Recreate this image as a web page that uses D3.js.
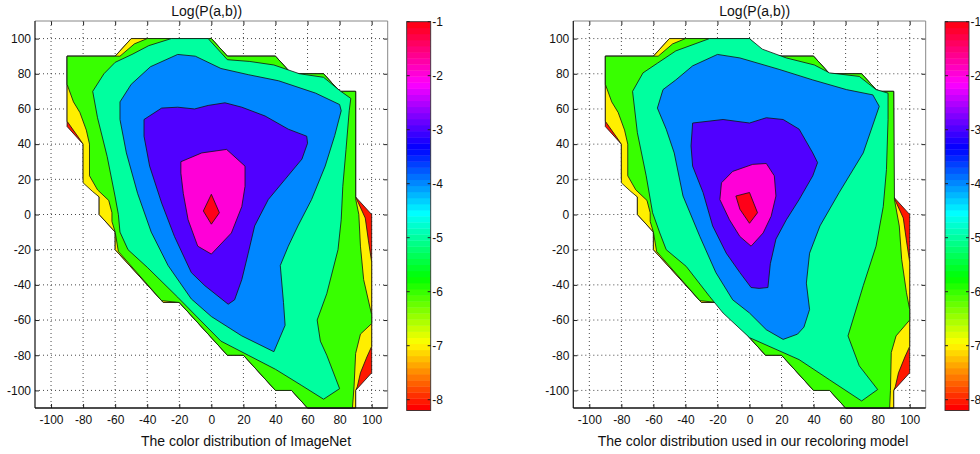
<!DOCTYPE html>
<html>
<head>
<meta charset="utf-8">
<script src="https://cdn.jsdelivr.net/npm/d3@7"></script>
<style>
  body { margin: 0; background: #fff; }
  svg text { font-family: "Liberation Sans", Arial, Helvetica, sans-serif; fill: #111; }
</style>
</head>
<body>
<svg id="chart" width="980" height="454"></svg>
<script>
// colour limits of the colorbar and the filled contour levels
const climLow = -8.2;
const climHigh = -1;
const contourLevels = [-8, -7, -6, -5, -4, -3, -2, -1];
const axisTicks = [-100, -80, -60, -40, -20, 0, 20, 40, 60, 80, 100];
const colorbarTicks = [-1, -2, -3, -4, -5, -6, -7, -8];
const titleText = "Log(P(a,b))";
const xLabels = ["The color distribution of ImageNet", "The color distribution used in our recoloring model"];

// region where P(a,b) is defined (level -8), same in both panels
const supportOutline = [[-90,90],[-60,90],[-50,100],[0,100],[10,90],[40,90],[50,80],[70,80],[80,70],[90,70],
  [90,10],[100,0],[100,-90],[90,-100],[90,-110],[60,-110],[50,-100],[40,-100],[20,-80],[10,-80],
  [-20,-50],[-30,-50],[-60,-20],[-60,-10],[-70,0],[-70,10],[-80,20],[-80,40],[-90,50]];
// level -7 (yellow), same in both panels
const yellowOutline = [[-90,90],[-60,90],[-50,100],[0,100],[10,90],[40,90],[50,80],[70,80],[80,70],[90,70],
  [90,10],[92,6],[96,-2],[98,-15],[100,-27],[100,-75],[97,-81],[93,-90],[91,-98],[90,-100],[90,-110],
  [60,-110],[50,-100],[40,-100],[20,-80],[10,-80],[-20,-50],[-30,-50],[-60,-20],[-60,-10],[-70,0],
  [-70,10],[-74,13],[-80,18],[-80,40],[-83,44],[-90,53]];

// ImageNet panel, levels -6 .. -1
const inetGreen = [[-90,90],[-57,90],[-48,97],[-40,100],[0,100],[10,90],[40,90],[50,80],[70,80],[80,70],[90,70],
  [90,9],[92,0],[93,-18],[95,-37],[100,-57],[100,-62],[93,-68],[90,-79],[89,-98],[88,-110],[60,-110],
  [50,-100],[40,-100],[20,-80],[10,-80],[-20,-50],[-31,-49],[-58,-21],[-60,-10],[-62,-4],[-62,1],
  [-64,8],[-71,14],[-76,22],[-76,40],[-78,48],[-82,58],[-86,64],[-90,74]];
const inetCyan = [[-25,100],[-2,100],[10,88],[24,87],[39,85],[55,80],[70,78],[80,70.5],[87,66],[86,59],
  [84,37],[82,16],[81,-3],[79,-20],[72,-45],[66,-60],[68,-72],[72,-80],[80,-99],[70,-105],[56,-97],
  [40,-88],[23,-80],[6,-72],[-7,-60],[-21,-47],[-40,-30],[-52,-20],[-57,-10],[-58,0],[-60,10],[-65,33],
  [-71,55],[-74,70],[-67,80],[-60,86.5],[-49.5,91],[-39,96]];
const inetBlue = [[-57,64],[-50,74],[-38,84],[-21,91],[-10,90],[6,83],[23,79.5],[42,76],[65,69],[80,62.5],
  [81,59],[77,45],[71,27.5],[62.5,8.5],[54,-6.5],[48,-18],[43,-29],[45,-50],[46,-63],[39,-78],[19,-69],
  [0,-58],[-12.5,-48],[-27,-29],[-37.5,-10],[-46,12],[-53,35],[-57,54]];
const inetPurple = [[-42,54],[-31,60.5],[-21,61],[-10.5,60],[-2,62],[8.5,63.5],[19,61],[33.5,56],[48,48.5],
  [59.5,44.5],[60,40.5],[56.5,31.5],[46,20],[35.5,8.5],[27,-6.5],[23,-22],[19,-37],[14.5,-48.5],[10.5,-51],
  [-4,-40.5],[-12.5,-33],[-23,-12.5],[-31,6.5],[-38.5,27.5],[-42,44.5]];
const inetMagenta = [[-19,30],[-6,35],[9.5,37],[21,27.5],[21,16],[19,4.5],[12.5,-10.5],[0,-22.5],[-8.5,-18],
  [-14.5,-3],[-17.5,12],[-19,23.5]];
const inetRed = [[0,11.5],[5,1],[0,-5.5],[-5,2]];

// recoloring model panel, levels -6 .. -1
const recGreen = [[-90,90],[-57,90],[-48,97],[-40,100],[0,100],[10,90],[40,90],[50,80],[70,80],[80,70],[90,70],
  [90.5,8.5],[93.5,-6.5],[95,-25.5],[98,-44.5],[100,-54],[100,-60],[91.5,-69],[88.5,-78.5],[88,-100],
  [87.5,-110],[60,-110],[50,-100],[40,-100],[20,-80],[10,-80],[-20,-50],[-31,-49],[-58,-21],[-60,-10],
  [-62,-4],[-62,1],[-64,8],[-71,14],[-76,22],[-76,40],[-78,48],[-82,58],[-86,64],[-90,74]];
const recCyan = [[-25,100],[0,100],[8,94],[23,89],[40.5,85],[50,80.5],[68.5,78.5],[79,71],[86.5,69],[86.5,54],
  [85.5,25.5],[83.5,4.5],[79,-18],[71,-40.5],[61.5,-69],[68.5,-86],[80,-99.5],[70,-106],[50,-94],
  [31,-82.5],[0,-70],[-16.5,-56],[-25,-46.5],[-39.5,-29.5],[-52,-20],[-56,-10.5],[-60.5,1],[-64.5,22],
  [-70,46.5],[-73,70],[-66.5,80.5],[-57.5,86],[-46,93]];
const recBlue = [[-57.5,60.5],[-54,71],[-46,76.5],[-35.5,84.5],[-20,91],[-6,89],[18.5,82.5],[39.5,76.5],
  [60.5,71],[77,68],[81,61.5],[71,35],[56,12.5],[44,-6.5],[37.5,-22],[35.5,-39],[37.5,-54],[34,-64],
  [30,-68],[21,-71],[10.5,-65.5],[0,-56],[-10.5,-48.5],[-21,-33],[-31,-12.5],[-41.5,10.5],[-47,35],[-52,48.5]];
const recPurple = [[-35.5,52],[-16.5,54],[0,52],[10.5,55],[21,54],[31,48.5],[39.5,35],[42.5,29.5],[39.5,22],
  [31,8.5],[23,-3],[16.5,-14],[13,-28],[11.5,-41.5],[6,-42],[1,-41.5],[-6,-33],[-14.5,-22],[-23,-6.5],
  [-29,12.5],[-35.5,27.5],[-36.5,39]];
const recMagenta = [[-17.5,18],[-10.5,24.5],[2,28.5],[10.5,29],[15.5,22],[16.5,10.5],[13.5,-1],[8.5,-10.5],
  [1,-18],[-6,-12.5],[-12.5,-3],[-18.5,8.5]];
const recRed = [[-8.5,10.5],[0,12.5],[5,1],[0,-5],[-6,3]];

const panels = [
  { left: 35, right: 387.7, cbLeft: 406.7, titleX: 206.7, labelX: 246, label: xLabels[0],
    regions: [supportOutline, yellowOutline, inetGreen, inetCyan, inetBlue, inetPurple, inetMagenta, inetRed] },
  { left: 573.3, right: 925.7, cbLeft: 945, titleX: 754.7, labelX: 753, label: xLabels[1],
    regions: [supportOutline, yellowOutline, recGreen, recCyan, recBlue, recPurple, recMagenta, recRed] }
];

const svg = d3.select("#chart");
const plotTop = 21, plotBottom = 408;
const cbTop = 21.7, cbBottom = 410.5, cbWidth = 24;

// matlab-like hsv colormap with 64 entries
function hsvColor(i) {
  return d3.hsl(360 * i / 64, 1, 0.5).formatHex();
}
function levelColor(v) {
  const idx = Math.max(0, Math.min(63, Math.floor((v - climLow) / (climHigh - climLow) * 64)));
  return hsvColor(idx);
}

function drawPanel(p) {
  const x = d3.scaleLinear().domain([-110, 110]).range([p.left, p.right]);
  const y = d3.scaleLinear().domain([-110, 110]).range([plotBottom, plotTop]);
  const g = svg.append("g");

  // dotted grid
  g.append("g").selectAll("line").data(axisTicks).join("line")
    .attr("x1", d => x(d)).attr("x2", d => x(d)).attr("y1", plotTop).attr("y2", plotBottom)
    .attr("stroke", "#333").attr("stroke-width", 0.9).attr("stroke-dasharray", "1 3");
  g.append("g").selectAll("line").data(axisTicks).join("line")
    .attr("x1", p.left).attr("x2", p.right).attr("y1", d => y(d)).attr("y2", d => y(d))
    .attr("stroke", "#333").attr("stroke-width", 0.9).attr("stroke-dasharray", "1 3");

  // axes with inward ticks
  const fmt = d => String(d);
  const ax = [
    g.append("g").attr("transform", `translate(0,${plotBottom})`)
      .call(d3.axisBottom(x).tickValues(axisTicks).tickSize(-4).tickSizeOuter(0).tickPadding(7).tickFormat(fmt)),
    g.append("g").attr("transform", `translate(${p.left},0)`)
      .call(d3.axisLeft(y).tickValues(axisTicks).tickSize(-4).tickSizeOuter(0).tickPadding(4).tickFormat(fmt)),
    g.append("g").attr("transform", `translate(0,${plotTop})`)
      .call(d3.axisTop(x).tickValues(axisTicks).tickSize(-4).tickSizeOuter(0).tickFormat("")),
    g.append("g").attr("transform", `translate(${p.right},0)`)
      .call(d3.axisRight(y).tickValues(axisTicks).tickSize(-4).tickSizeOuter(0).tickFormat(""))
  ];
  ax.forEach(a => {
    a.select(".domain").remove();
    a.selectAll("line").attr("stroke", "#222");
    a.selectAll("text").attr("font-size", "12px").attr("font-family", null).attr("fill", "#111");
  });

  // filled contours, lowest level first
  const line = d3.line().x(d => x(d[0])).y(d => y(d[1])).curve(d3.curveLinearClosed);
  g.append("g").selectAll("path").data(p.regions).join("path")
    .attr("d", d => line(d))
    .attr("fill", (d, i) => levelColor(contourLevels[i]))
    .attr("stroke", "#111").attr("stroke-width", 0.8).attr("stroke-linejoin", "round");

  // axes box
  g.append("line").attr("x1", p.left).attr("x2", p.right).attr("y1", plotTop).attr("y2", plotTop)
    .attr("stroke", "#888").attr("stroke-width", 1);
  g.append("line").attr("x1", p.right).attr("x2", p.right).attr("y1", plotTop).attr("y2", plotBottom)
    .attr("stroke", "#888").attr("stroke-width", 1);
  g.append("line").attr("x1", p.left).attr("x2", p.left).attr("y1", plotTop).attr("y2", plotBottom)
    .attr("stroke", "#222").attr("stroke-width", 1.3);
  g.append("line").attr("x1", p.left).attr("x2", p.right).attr("y1", plotBottom).attr("y2", plotBottom)
    .attr("stroke", "#111").attr("stroke-width", 1.5);

  // title and x label
  g.append("text").attr("x", p.titleX).attr("y", 15.5).attr("text-anchor", "middle")
    .attr("font-size", "14px").text(titleText);
  g.append("text").attr("x", p.labelX).attr("y", 446).attr("text-anchor", "middle")
    .attr("font-size", "14px").text(p.label);

  // colorbar
  const cb = d3.scaleLinear().domain([climLow, climHigh]).range([cbBottom, cbTop]);
  const step = (climHigh - climLow) / 64;
  const cbg = g.append("g");
  cbg.selectAll("rect").data(d3.range(64)).join("rect")
    .attr("x", p.cbLeft).attr("width", cbWidth)
    .attr("y", i => cb(climLow + (i + 1) * step))
    .attr("height", i => cb(climLow + i * step) - cb(climLow + (i + 1) * step) + 0.4)
    .attr("fill", i => hsvColor(i));
  cbg.append("rect").attr("x", p.cbLeft).attr("y", cbTop).attr("width", cbWidth)
    .attr("height", cbBottom - cbTop).attr("fill", "none").attr("stroke", "#333").attr("stroke-width", 0.9);
  cbg.selectAll("line.l").data(colorbarTicks).join("line").attr("class", "l")
    .attr("x1", p.cbLeft).attr("x2", p.cbLeft + 3).attr("y1", d => cb(d)).attr("y2", d => cb(d))
    .attr("stroke", "#222");
  cbg.selectAll("line.r").data(colorbarTicks).join("line").attr("class", "r")
    .attr("x1", p.cbLeft + cbWidth - 3).attr("x2", p.cbLeft + cbWidth).attr("y1", d => cb(d)).attr("y2", d => cb(d))
    .attr("stroke", "#222");
  cbg.selectAll("text").data(colorbarTicks).join("text")
    .attr("x", p.cbLeft + cbWidth + 1.5).attr("y", d => cb(d)).attr("dy", "0.35em")
    .attr("font-size", "12px").text(d => String(d));
}

panels.forEach(drawPanel);
</script>
</body>
</html>
